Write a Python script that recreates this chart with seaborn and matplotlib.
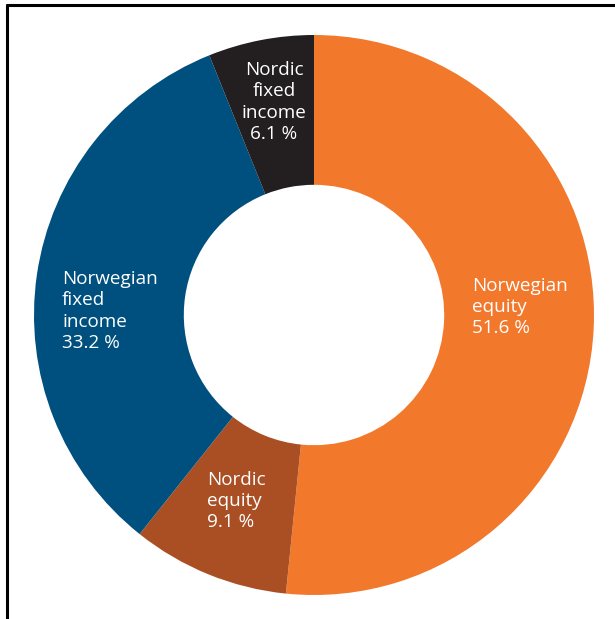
import matplotlib
matplotlib.use("Agg")
import matplotlib.pyplot as plt
from matplotlib.lines import Line2D
import seaborn as sns

# data
categories = ["Norwegian equity", "Nordic equity", "Norwegian fixed income", "Nordic fixed income"]
shares = [51.6, 9.1, 33.2, 6.1]
label_texts = ["Norwegian\nequity\n51.6 %", "Nordic\nequity\n9.1 %",
               "Norwegian\nfixed\nincome\n33.2 %", "Nordic\nfixed\nincome\n6.1 %"]
colors = ["#F2782C", "#AA4F23", "#00507F", "#231F20"]

sns.set_theme(style="white")
plt.rcParams['font.family'] = ['Open Sans', 'DejaVu Sans']

W, H = 615, 619
fig = plt.figure(figsize=(W / 100, H / 100), dpi=100)

cx, cy, r = 314, 315, 280
ax = fig.add_axes([(cx - r) / W, (H - cy - r) / H, 2 * r / W, 2 * r / H])
ax.pie(shares, colors=colors, startangle=90, counterclock=False, radius=1,
       wedgeprops=dict(width=0.535, linewidth=0))
ax.set_xlim(-1, 1)
ax.set_ylim(-1, 1)
ax.set_aspect("equal")
ax.axis("off")

# label positions in pixels (anchor x, centre y, alignment)
label_pos = [(472, 307, "left"), (207, 501, "left"), (62, 311, "left"), (274, 102, "center")]
for txt, (px, py, ha) in zip(label_texts, label_pos):
    ax.text((px - cx) / r, (cy - py) / r, txt, color="white", fontsize=13.6,
            ha=ha, va="center", linespacing=1.22, multialignment=ha)

# frame lines (top and left)
fig.add_artist(Line2D([7 / W, 1], [1 - 5 / H, 1 - 5 / H], color="black", lw=2.2,
                      transform=fig.transFigure))
fig.add_artist(Line2D([7 / W, 7 / W], [0, 1 - 5 / H], color="black", lw=2.2,
                      transform=fig.transFigure))

fig.savefig("out.png", dpi=100)
